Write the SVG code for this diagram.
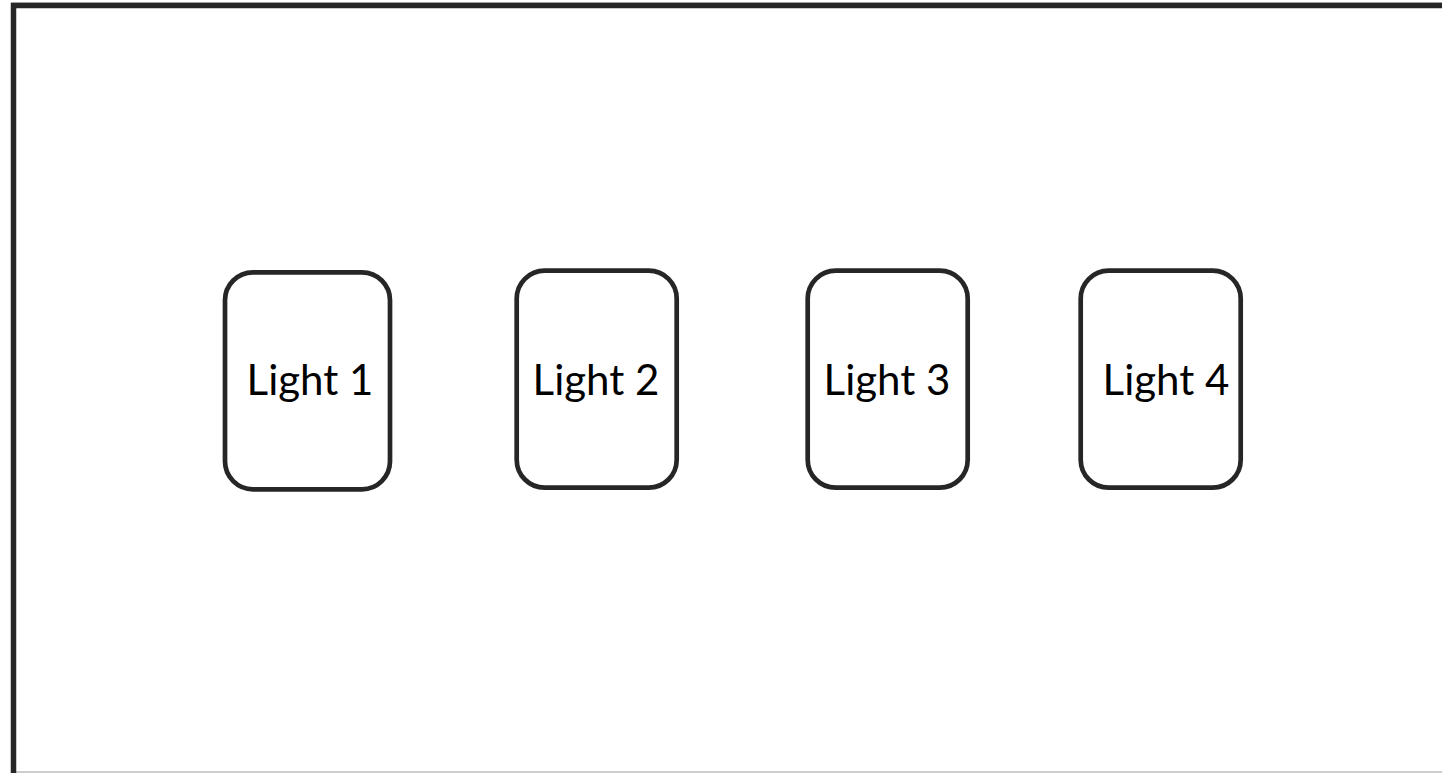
<svg xmlns="http://www.w3.org/2000/svg" width="1442" height="773" viewBox="0 0 1442 773">
  <style>
    .light rect { fill: #ffffff; stroke: #262626; stroke-width: 4.7; }
    .light text { font-family: Lato, "Open Sans", sans-serif; font-size: 42px; fill: #000000; text-anchor: middle; }
  </style>
  <!-- page background and panel frame -->
  <rect x="0" y="0" width="1442" height="773" fill="#ffffff"/>
  <line x1="11" y1="2.5" x2="1442" y2="2.5" stroke="#c8c8c8" stroke-width="1"/>
  <line x1="11" y1="772" x2="1442" y2="772" stroke="#bdbdbd" stroke-width="1.5"/>
  <path d="M13.5 773 V5.5 H1442" fill="none" stroke="#262626" stroke-width="5.5"/>

  <g id="connectors"></g>

  <g id="light-1" class="light">
    <rect x="225" y="272.3" width="165" height="217" rx="28" ry="28"/>
    <text x="310" y="395">Light 1</text>
  </g>
  <g id="light-2" class="light">
    <rect x="516.7" y="270.7" width="160" height="217" rx="28" ry="28"/>
    <text x="596" y="395">Light 2</text>
  </g>
  <g id="light-3" class="light">
    <rect x="807.7" y="270.7" width="160" height="217" rx="28" ry="28"/>
    <text x="887" y="395">Light 3</text>
  </g>
  <g id="light-4" class="light">
    <rect x="1080.7" y="270.7" width="160" height="217" rx="28" ry="28"/>
    <text x="1166" y="395">Light 4</text>
  </g>
</svg>
